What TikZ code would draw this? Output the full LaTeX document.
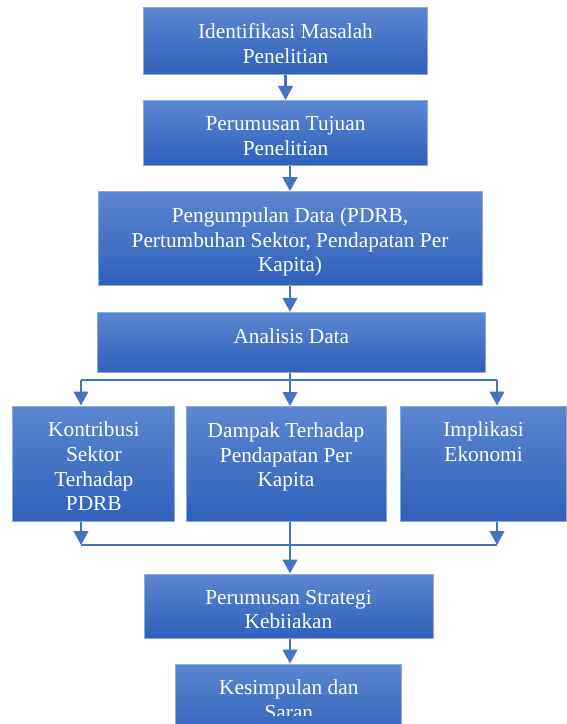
\documentclass[tikz,border=0pt]{standalone}
\usepackage{fontspec}
\setmainfont{Liberation Serif}
\usetikzlibrary{arrows.meta,positioning}
\definecolor{boxtop}{HTML}{5C86D0}
\definecolor{boxbot}{HTML}{2F60BB}
\definecolor{boxedge}{HTML}{8EA9DB}
\definecolor{arrowblue}{HTML}{4472C4}
\tikzset{
  flowbox/.style={rectangle,draw=boxedge,line width=.75pt,
    top color=boxtop,bottom color=boxbot,inner sep=0pt},
  boxtext/.style={text=white,align=center,inner sep=0pt,
    font=\fontsize{16}{18.4}\selectfont},
  flow/.style={-{Triangle[width=11pt,length=10.5pt]},draw=arrowblue,line width=1.6pt},
  branch/.style={draw=arrowblue,line width=1pt},
}

\begin{document}
\begin{tikzpicture}[x=.75pt,y=-.75pt]
\useasboundingbox (0,0) rectangle (567,724);

\node[flowbox,minimum width=212.3pt,minimum height=49.9pt] (ident) at (285.5,40.75) {};
\node[boxtext,below=12.3pt of ident.north] (identtext) {Identifikasi Masalah\\Penelitian};

\node[flowbox,minimum width=212.3pt,minimum height=48.4pt] (tujuan) at (285.5,132.75) {};
\node[boxtext,below=12.3pt of tujuan.north] (tujuantext) {Perumusan Tujuan\\Penelitian};

\node[flowbox,minimum width=288pt,minimum height=70.5pt] (data) at (290,238.7) {};
\node[boxtext,below=12.3pt of data.north] (datatext)
  {Pengumpulan Data (PDRB,\\Pertumbuhan Sektor, Pendapatan Per\\Kapita)};

\node[flowbox,minimum width=290.5pt,minimum height=44.8pt] (analisis) at (291.35,342.15) {};
\node[boxtext,below=12.3pt of analisis.north] (analisistext) {Analisis Data};

\node[flowbox,minimum width=121.7pt,minimum height=86.25pt] (kontribusi) at (93.85,463.5) {};
\node[boxtext,below=12.3pt of kontribusi.north] (kontribusitext)
  {Kontribusi\\Sektor\\Terhadap\\PDRB};

\node[flowbox,minimum width=150pt,minimum height=86.25pt] (dampak) at (286,464) {};
\node[boxtext,below=12.3pt of dampak.north] (dampaktext)
  {Dampak Terhadap\\Pendapatan Per\\Kapita};

\node[flowbox,minimum width=124.4pt,minimum height=86.25pt] (implikasi) at (483.6,463.5) {};
\node[boxtext,below=12.3pt of implikasi.north] (implikasitext) {Implikasi\\Ekonomi};

% text cut off at the bottom of the box
\node[flowbox,minimum width=216.75pt,minimum height=48pt] (strategi) at (288.5,606) {};
\begin{scope}
  \clip (strategi.north west) rectangle ([yshift=8pt]strategi.south east);
  \node[boxtext,below=12.3pt of strategi.north] (strategitext)
    {Perumusan Strategi\\Kebijakan};
\end{scope}

\node[flowbox,minimum width=169.3pt,minimum height=57pt] (simpulan) at (288.85,702) {};
\coordinate (simpulancut) at (0,715);
\begin{scope}
  \clip (simpulan.north west) rectangle (simpulan.east |- simpulancut);
  \node[boxtext,below=12.3pt of simpulan.north] (simpulantext) {Kesimpulan dan\\Saran};
\end{scope}

% main line
\draw[flow] (ident.south) -- (tujuan.north);
\draw[flow] (data.north |- tujuan.south) -- (data.north);
\draw[flow] (data.south) -- (data.south |- analisis.north);

% split into three
\coordinate (splitL) at (81,380);
\coordinate (splitR) at (497,380);
\draw[branch,line width=1.6pt] (analisis.south -| data.south) -- (data.south |- splitL);
\draw[branch] (splitL) -- (splitR);
\draw[flow] (splitL) -- (splitL |- kontribusi.north);
\draw[flow] (data.south |- splitL) -- (data.south |- dampak.north);
\draw[flow] (splitR) -- (splitR |- implikasi.north);

% join again
\coordinate (joinL) at (81,545);
\coordinate (joinR) at (497,545);
\draw[flow] (joinL |- kontribusi.south) -- (joinL);
\draw[flow] (joinR |- implikasi.south) -- (joinR);
\draw[branch] (joinL) -- (joinR);
\draw[flow] (data.south |- dampak.south) -- (data.south |- strategi.north);
\draw[flow] (strategi.south -| data.south) -- (data.south |- simpulan.north);
\end{tikzpicture}
\end{document}
